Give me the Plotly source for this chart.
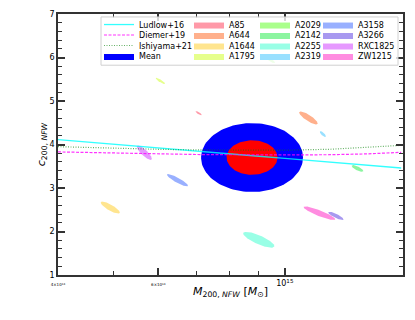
import numpy as np
import plotly.graph_objects as go

# === concentration-mass relations, read at fixed masses ===
mass_grid = [4e14, 5e14, 6e14, 7e14, 8e14, 9e14, 1e15, 1.2e15, 1.4e15, 1.6e15]
c_ludlow = [4.11, 4.01, 3.92, 3.85, 3.79, 3.73, 3.68, 3.60, 3.52, 3.46]
c_diemer = [3.83, 3.80, 3.785, 3.77, 3.765, 3.76, 3.76, 3.765, 3.785, 3.82]
c_ishiyama = [3.95, 3.91, 3.89, 3.875, 3.87, 3.87, 3.87, 3.89, 3.93, 3.98]

# === cluster posteriors (centre, sigma in log10 M, sigma in c, correlation) ===
clusters = ["A85", "A644", "A1644", "A1795", "A2029", "A2142",
            "A2255", "A2319", "A3158", "A3266", "RXC1825", "ZW1215"]
cl_mass = [7.06e14, 1.10e15, 4.94e14, 6.05e14, 9.42e14, 1.341e15,
           9.0e14, 1.166e15, 6.48e14, 1.229e15, 5.67e14, 1.150e15]
cl_conc = [4.72, 4.61, 2.55, 5.46, 5.95, 3.45, 1.81, 4.24, 3.18, 2.36, 3.81, 2.42]
cl_sig_logm = [0.0053, 0.0163, 0.0169, 0.0082, 0.0088, 0.0103,
               0.0274, 0.0053, 0.0184, 0.0134, 0.0131, 0.0277]
cl_sig_c = [0.046, 0.150, 0.138, 0.072, 0.083, 0.078,
            0.182, 0.068, 0.144, 0.096, 0.165, 0.157]
cl_rho = [-0.82, -0.84, -0.83, -0.88, -0.87, -0.77,
          -0.80, -0.75, -0.89, -0.85, -0.83, -0.89]
cl_colors = ["#ff99a8", "#ffb08c", "#ffe58f", "#e6ff8c", "#aaff8c", "#8cf5a0",
             "#99ffe6", "#99e0ff", "#99b0ff", "#a899f0", "#e699ff", "#ff8ce0"]

# === mean ===
mean_mass = 8.76e14
mean_conc = 3.70
mean_sig_logm = 0.0447
mean_sig_c = 0.396


def ellipse(m, c, sl, sc, rho, k=1.0, n=120):
    t = np.linspace(0, 2 * np.pi, n)
    u, v = np.cos(t), np.sin(t)
    lm = np.log10(m) + k * sl * u
    cc = c + k * sc * (rho * u + np.sqrt(1 - rho ** 2) * v)
    return 10 ** lm, cc


fig = go.Figure()

# legend slots: column-major, 4 rows
text_px = [139, 229, 295, 358]
row_px = [20.7, 31.3, 42.0, 52.7]
PL, PT, PW, PH = 58, 10, 345, 265


def legend_id(i):
    return "legend" if i == 0 else f"legend{i + 1}"


legends = {}
for i in range(16):
    col, row = i // 4, i % 4
    legends[legend_id(i)] = dict(
        x=(text_px[col] - 40 - PL) / PW, xanchor="left",
        y=1 - (row_px[row] - PT) / PH, yanchor="middle",
        bgcolor="rgba(0,0,0,0)", borderwidth=0,
        font=dict(family="DejaVu Sans", size=8, color="black"),
    )

# mean ellipse: 2 sigma blue, 1 sigma red
x, y = ellipse(mean_mass, mean_conc, mean_sig_logm, mean_sig_c, 0.0, k=2)
fig.add_trace(go.Scatter(x=x, y=y, fill="toself", mode="lines", line=dict(width=0),
                         fillcolor="#0000ff", name="Mean", legend=legend_id(3)))
x, y = ellipse(mean_mass, mean_conc, mean_sig_logm, mean_sig_c, 0.0, k=1)
fig.add_trace(go.Scatter(x=x, y=y, fill="toself", mode="lines", line=dict(width=0),
                         fillcolor="#ff0000", showlegend=False))

for j, name in enumerate(clusters):
    x, y = ellipse(cl_mass[j], cl_conc[j], cl_sig_logm[j], cl_sig_c[j], cl_rho[j])
    fig.add_trace(go.Scatter(x=x, y=y, fill="toself", mode="lines", line=dict(width=0),
                             fillcolor=cl_colors[j], name=name, legend=legend_id(4 + j)))

fig.add_trace(go.Scatter(x=mass_grid, y=c_ludlow, mode="lines", name="Ludlow+16",
                         line=dict(color="rgba(0,255,255,0.8)", width=1.3), legend=legend_id(0)))
fig.add_trace(go.Scatter(x=mass_grid, y=c_diemer, mode="lines", name="Diemer+19",
                         line=dict(color="rgba(255,0,255,0.8)", width=1.2, dash="3px,1.5px"),
                         legend=legend_id(1)))
fig.add_trace(go.Scatter(x=mass_grid, y=c_ishiyama, mode="lines", name="Ishiyama+21",
                         line=dict(color="rgba(0,128,0,0.6)", width=1.2, dash="1px,1.5px"),
                         legend=legend_id(2)))

fig.add_shape(type="rect", xref="paper", yref="paper",
              x0=(101 - PL) / PW, x1=(398 - PL) / PW,
              y0=1 - (62 - PT) / PH, y1=1 - (13 - PT) / PH,
              fillcolor="rgba(255,255,255,0.8)", line=dict(color="#d0d0d0", width=1),
              layer="above")

small = '<span style="font-size:4px">{}</span>'
fig.update_layout(
    width=415, height=320,
    margin=dict(l=PL, r=415 - PL - PW, t=PT, b=320 - PT - PH),
    paper_bgcolor="white", plot_bgcolor="white",
    font=dict(family="DejaVu Sans", size=8, color="black"),
    **legends,
)
fig.update_xaxes(
    type="log", range=[np.log10(4e14), np.log10(4e14) + PW / 570],
    tickvals=[4e14, 6e14, 1e15],
    ticktext=[small.format("4×10<sup>14</sup>"), small.format("6×10<sup>14</sup>"), "10<sup>15</sup>"],
    ticks="inside", ticklen=7, tickwidth=1.5, tickcolor="#333",
    minor=dict(tickvals=[5e14, 7e14, 8e14, 9e14], ticks="inside", ticklen=4,
               tickwidth=1, tickcolor="#333"),
    showline=True, linecolor="#333", linewidth=1.6, mirror="allticks",
    showgrid=False, zeroline=False,
    title=dict(text="<i>M</i><sub>200, <i>NFW</i></sub> [<i>M</i><sub>⊙</sub>]",
               font=dict(size=11), standoff=0),
)
fig.update_yaxes(
    range=[1, 7], dtick=1,
    ticks="inside", ticklen=7, tickwidth=1.5, tickcolor="#333",
    minor=dict(dtick=0.2, ticks="inside", ticklen=4, tickwidth=1, tickcolor="#333"),
    showline=True, linecolor="#333", linewidth=1.6, mirror="allticks",
    showgrid=False, zeroline=False,
    title=dict(text="<i>c</i><sub>200, <i>NFW</i></sub>", font=dict(size=11), standoff=1),
)

# the page's default body margin would push the figure 8px down and right
fig.write_html("out.html", config={"displayModeBar": False},
               post_script="document.body.style.margin='0';")
